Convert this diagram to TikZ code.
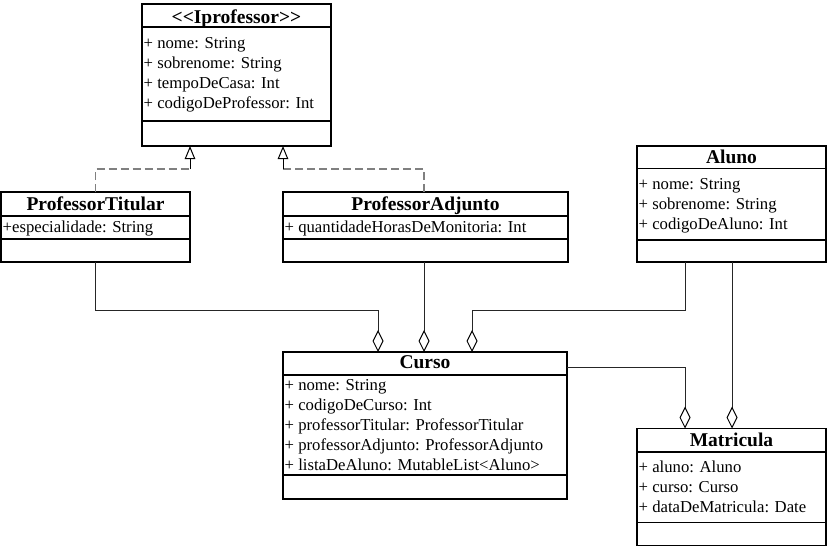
\documentclass[tikz,border=0pt]{standalone}
\usepackage{fontspec}
\setmainfont{Liberation Serif}
\usetikzlibrary{arrows.meta}
\tikzset{
 umlbox/.style={draw=black, line width=1.2pt, fill=white, inner sep=0pt, outer sep=0pt, anchor=north west},
 title/.style={font=\fontsize{19.5}{22}\selectfont\bfseries, anchor=base, inner sep=0pt},
 attrs/.style={font=\fontsize{16.7}{20}\selectfont, anchor=north west, inner sep=0pt, align=left},
 divider/.style={draw=black, line width=1.2pt},
 dashline/.style={draw=black!50, line width=1.5pt, dash pattern=on 8pt off 4pt},
 realtip/.style={draw=black, line width=1pt, -{Triangle[color=black, fill=white, length=13pt, width=10.5pt, line width=1pt]}},
 agg/.style={draw=black!85, line width=1pt, -{Diamond[color=black, fill=white, length=22pt, width=11pt, line width=1pt]}},
}
\begin{document}
\begin{tikzpicture}[x=1pt, y=-1pt]
\useasboundingbox (0,0) rectangle (827,547);

% Iprofessor
\node[umlbox, minimum width=189pt, minimum height=142pt] (ip) at (142,4) {};
\draw[divider] (ip.west |- 0,27) -- (ip.east |- 0,27);
\draw[divider] (ip.west |- 0,121) -- (ip.east |- 0,121);
\node[title] (ip-t) at (ip.north |- 0,23) {<\kern0pt<Iprofessor>\kern0pt>};
\node[attrs] (ip-a) at (143.5,36) {\rule{0pt}{12pt}+ nome: String\\+ sobrenome: String\\+ tempoDeCasa: Int\\+ codigoDeProfessor: Int};

% ProfessorTitular
\node[umlbox, minimum width=189pt, minimum height=70pt] (pt) at (1,192) {};
\draw[divider] (pt.west |- 0,216) -- (pt.east |- 0,216);
\draw[divider] (pt.west |- 0,239) -- (pt.east |- 0,239);
\node[title] (pt-t) at (pt.north |- 0,210) {ProfessorTitular};
\node[attrs] (pt-a) at (2.5,220) {\rule{0pt}{12pt}+especialidade: String};

% ProfessorAdjunto
\node[umlbox, minimum width=285pt, minimum height=70pt] (pa) at (283,192) {};
\draw[divider] (pa.west |- 0,216) -- (pa.east |- 0,216);
\draw[divider] (pa.west |- 0,239) -- (pa.east |- 0,239);
\node[title] (pa-t) at (pa.north |- 0,210) {ProfessorAdjunto};
\node[attrs] (pa-a) at (284.5,220) {\rule{0pt}{12pt}+ quantidadeHorasDeMonitoria: Int};

% Aluno
\node[umlbox, minimum width=189pt, minimum height=116pt] (al) at (637,146) {};
\draw[divider] (al.west |- 0,168.5) -- (al.east |- 0,168.5);
\draw[divider] (al.west |- 0,240) -- (al.east |- 0,240);
\node[title] (al-t) at (al.north |- 0,163.5) {Aluno};
\node[attrs] (al-a) at (638.5,177) {\rule{0pt}{12pt}+ nome: String\\+ sobrenome: String\\+ codigoDeAluno: Int};

% Curso
\node[umlbox, minimum width=284pt, minimum height=147pt] (cu) at (283,352) {};
\draw[divider] (cu.west |- 0,375) -- (cu.east |- 0,375);
\draw[divider] (cu.west |- 0,475) -- (cu.east |- 0,475);
\node[title] (cu-t) at (cu.north |- 0,368.5) {Curso};
\node[attrs] (cu-a) at (284.5,378) {\rule{0pt}{12pt}+ nome: String\\+ codigoDeCurso: Int\\+ professorTitular: ProfessorTitular\\+ professorAdjunto: ProfessorAdjunto\\+ listaDeAluno: MutableList<Aluno>};

% Matricula
\node[umlbox, minimum width=189pt, minimum height=117pt] (ma) at (637,428.5) {};
\draw[divider] (ma.west |- 0,452) -- (ma.east |- 0,452);
\draw[divider] (ma.west |- 0,522.5) -- (ma.east |- 0,522.5);
\node[title] (ma-t) at (ma.north |- 0,446) {Matricula};
\node[attrs] (ma-a) at (638.5,460) {\rule{0pt}{12pt}+ aluno: Aluno\\+ curso: Curso\\+ dataDeMatricula: Date};

% connection points
\coordinate (ipL) at ([xshift=48pt]ip.south west);
\coordinate (ipR) at ([xshift=141pt]ip.south west);
\coordinate (ipLs) at ([yshift=-23pt]ipL);
\coordinate (ipRs) at ([yshift=-23pt]ipR);
\coordinate (paT) at ([xshift=-1.5pt]pa.north);
\coordinate (paB) at ([xshift=-1.5pt]pa.south);
\coordinate (cuA) at ([xshift=95pt]cu.north west);
\coordinate (cuC) at ([xshift=189pt]cu.north west);
\coordinate (cuR) at ([yshift=-15pt]cu.north east);
\coordinate (alA) at ([xshift=48pt]al.south west);
\coordinate (alB) at ([xshift=95pt]al.south west);
\coordinate (maA) at ([xshift=48pt]ma.north west);
\coordinate (maB) at ([xshift=95pt]ma.north west);

% realizations
\draw[dashline] (pt.north) |- (ipLs);
\draw[realtip] (ipLs) -- (ipL);
\draw[dashline] (paT) |- (ipRs);
\draw[realtip] (ipRs) -- (ipR);

% aggregations
\draw[agg] (pt.south) -- ++(0,48) -| (cuA);
\draw[agg] (paB) -- (paB |- cu.north);
\draw[agg] (alA) -- ++(0,48) -| (cuC);
\draw[agg] (cuR) -| (maA);
\draw[agg] (alB) -- (maB);
\end{tikzpicture}
\end{document}
